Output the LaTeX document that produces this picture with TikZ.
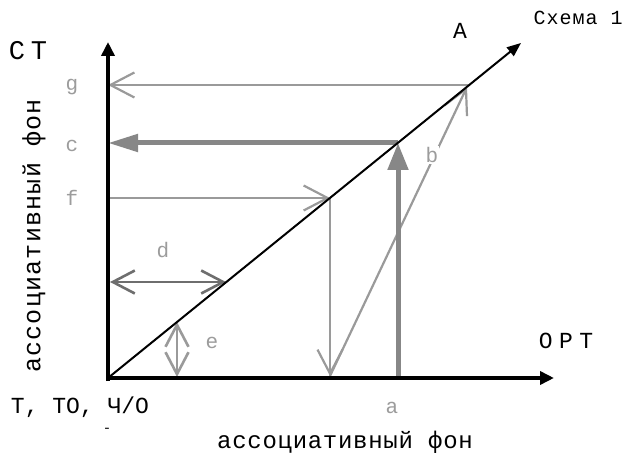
\documentclass[tikz,border=0pt]{standalone}
\usepackage{fontspec}
\setmainfont{Liberation Mono}
\usetikzlibrary{arrows.meta}
\definecolor{lgray}{HTML}{9A9A9A}
\definecolor{mgray}{HTML}{878787}
\definecolor{dgray}{HTML}{6E6E6E}
\definecolor{tgray}{HTML}{9C9C9C}
\tikzset{
  axis/.style={black, line width=4pt, -{Triangle[length=14pt,width=13pt]}},
  diag/.style={black, line width=2pt, -{Triangle[length=14pt,width=11pt]}},
  thin/.style={lgray, line width=2.2pt, -{Straight Barb[length=24pt,width=25pt]}},
  both/.style={line width=2.6pt, {Straight Barb[length=22pt,width=23pt]}-{Straight Barb[length=22pt,width=23pt]}},
  thick/.style={mgray, line width=5pt},
  lbl/.style={text=tgray, font=\fontsize{21}{21}\selectfont, inner sep=0pt},
  big/.style={inner sep=0pt},
}
\begin{document}
\begin{tikzpicture}[x=1pt,y=-1pt]
\useasboundingbox (0,0) rectangle (629,454);
% key points
\coordinate (O) at (108,378);
\coordinate (ytop) at (108,42);
\coordinate (xend) at (554,378);
\coordinate (A) at (521,43);
\coordinate (pg) at (469,85);
\coordinate (pc) at (398,143);
\coordinate (pf) at (330,198);
\coordinate (pd) at (226,282);
\coordinate (pe) at (177,322);
\coordinate (yg) at (108,85);
\coordinate (yc) at (108,143);
\coordinate (yf) at (110,198);
\coordinate (yd) at (110,282);
\coordinate (xf) at (330,376);
\coordinate (xa) at (398,377);
\coordinate (xe) at (177,377);
\coordinate (bt) at (467,87);

% gray arrows
\draw[thin] (pg) -- (yg);
\draw[thin] (yf) -- (pf);
\draw[thin] (pf) -- (xf);
\draw[thin] (xf) -- (bt);
\draw[thick, -{Triangle[length=30pt,width=17pt]}] (pc) -- (yc);
\draw[thick, -{Triangle[length=27pt,width=20pt]}] (xa) -- (pc);
\draw[both, dgray] (yd) -- (pd);
\draw[both, lgray] (xe) -- (pe);

% axes
\draw[axis] (108,381) -- (ytop);
\draw[axis, line width=3.5pt] (106,378) -- (xend);
\draw[diag] (O) -- (A);

% labels
\node[lbl] (lg) at (72,87) {g};
\node[lbl] (lc) at (72,146) {c};
\node[lbl] (lf) at (72,198) {f};
\node[lbl] (ld) at (163,250) {d};
\node[lbl] (le) at (212,343) {e};
\node[lbl] (la) at (392,408) {a};
\node[lbl, fill=white, inner sep=1pt] (lb) at (432,155) {b};

\node[big, font=\fontsize{27}{27}\selectfont\addfontfeatures{LetterSpace=22}] (ct) at (28,51) {СТ};
\node[big, font=\fontsize{23}{23}\selectfont] (la2) at (460,31) {A};
\node[big, font=\fontsize{20}{20}\selectfont\addfontfeatures{LetterSpace=5}] (sch) at (578,18) {Схема 1};
\node[big, font=\fontsize{23}{23}\selectfont\addfontfeatures{LetterSpace=28}] (ort) at (566,341) {ОРТ};
\node[big, font=\fontsize{23}{23}\selectfont] (tto) at (80,407) {Т, ТО, Ч/О};
\node[big, font=\fontsize{14}{14}\selectfont] (dash) at (107,430) {-};
\node[big, font=\fontsize{24}{24}\selectfont\addfontfeatures{LetterSpace=3}] (bot) at (345,442) {ассоциативный фон};
\node[big, rotate=90, font=\fontsize{25}{25}\selectfont\addfontfeatures{LetterSpace=5}] (vert) at (34,236) {ассоциативный фон};
\end{tikzpicture}
\end{document}
